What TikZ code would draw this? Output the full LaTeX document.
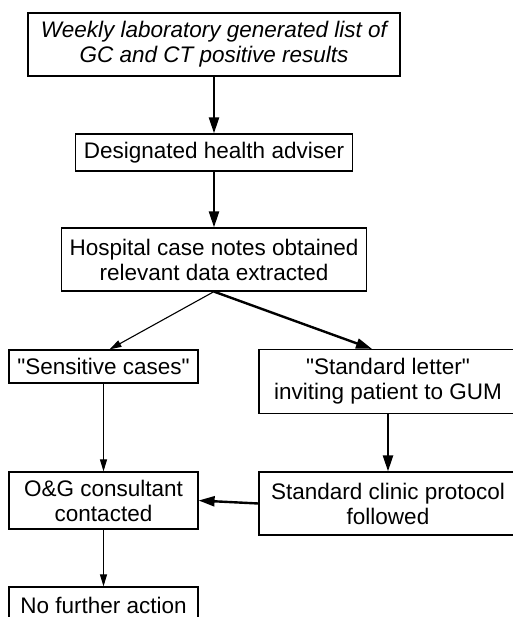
\documentclass[tikz,border=0pt]{standalone}
\usepackage{fontspec}
\setmainfont{Liberation Sans}[Ligatures=TeXOff]
\usetikzlibrary{positioning,arrows.meta}

\begin{document}
\begin{tikzpicture}[x=1pt,y=1pt,node distance=100pt,on grid,
    box/.style={draw,line width=1.2pt,inner sep=0pt,align=center,
      font=\fontsize{22.5}{25}\selectfont},
    thickarr/.style={line width=2.4pt,-{Triangle[length=16pt,width=10pt]}},
    thinarr/.style={line width=1.1pt,-{Triangle[length=12pt,width=7pt]}}]
			\useasboundingbox (0,0) rectangle (512,-617);
			\node[box, minimum width=372pt, minimum height=63pt] (weekly) at (214,-44.5)
				{\itshape Weekly laboratory generated list of\\ \itshape GC and CT positive results};
			\node[box, minimum width=277pt, minimum height=37pt] (adviser) [below=108pt of weekly] {Designated health adviser};
			\node[box, minimum width=305pt, minimum height=63pt] (hospital) [below=107pt of adviser]
				{Hospital case notes obtained\\ relevant data extracted};
			\node[box, minimum width=189pt, minimum height=33pt] (sensitive) [below left=107pt and 110.5pt of hospital] {"Sensitive cases"};
			\node[box, minimum width=258pt, minimum height=64pt] (letter) [below right=122pt and 174pt of hospital]
				{"Standard letter"\\ inviting patient to GUM};
			\node[box, minimum width=258pt, minimum height=63pt] (clinic) [below=122pt of letter]
				{Standard clinic protocol\\ followed};
			\node[box, minimum width=189pt, minimum height=57pt] (og) [below=134pt of sensitive]
				{O\&G consultant\\ contacted};
			\node[box, minimum width=189pt, minimum height=37pt] (nfa) [below=105pt of og] {No further action};
			\path[thickarr]
			(weekly) edge (adviser)
			(adviser) edge (hospital)
			(hospital.south) edge ([xshift=-16pt]letter.north)
			(letter) edge (clinic)
			(clinic.west) edge (og.east);
			\path[thinarr]
			(hospital.south) edge ([xshift=6pt]sensitive.north)
			(sensitive) edge (og)
			(og) edge (nfa);
		\end{tikzpicture}
\end{document}
